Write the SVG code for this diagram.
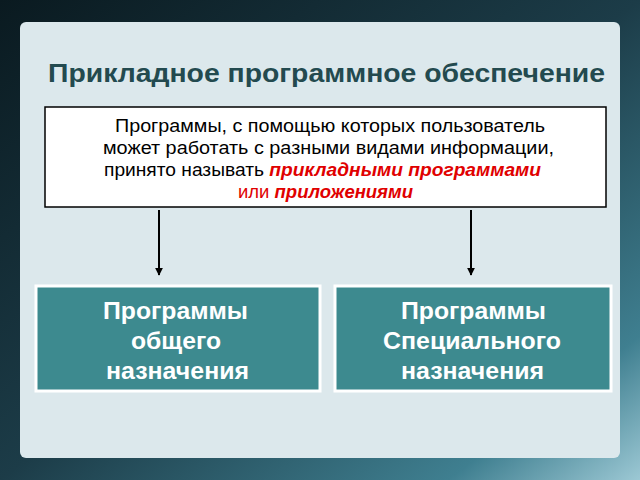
<svg xmlns="http://www.w3.org/2000/svg" width="640" height="480" viewBox="0 0 640 480">
<defs>
<linearGradient id="bg" x1="0" y1="0" x2="1" y2="1">
<stop offset="0" stop-color="#0a1a20"/><stop offset="0.5" stop-color="#1c3c48"/><stop offset="0.85" stop-color="#3f7f90"/><stop offset="1" stop-color="#9cc8d4"/>
</linearGradient>
<marker id="ah" viewBox="0 0 10 10" refX="9" refY="5" markerWidth="4" markerHeight="4" orient="auto"><path d="M0,0L10,5L0,10z" fill="#000"/></marker>
<style>
.t{font-family:"Liberation Sans",Arial,sans-serif}
.box{fill:#3d8a8f;stroke:#fff;stroke-width:3}
.bl{font-family:"Liberation Sans",Arial,sans-serif;font-weight:bold;font-size:23px;fill:#fff}
.r{fill:#e00000;font-weight:bold;font-style:italic}
</style>
</defs>
<rect width="640" height="480" fill="url(#bg)"/>
<rect x="20" y="22" width="600" height="436" rx="6" fill="#dce8ec"/>
<text class="t" x="48" y="82" font-size="26" font-weight="bold" fill="#234a4f" textLength="557" lengthAdjust="spacingAndGlyphs">Прикладное программное обеспечение</text>
<g id="def">
<rect x="45" y="107" width="561" height="100" fill="#fff" stroke="#000" stroke-width="1.5"/>
<text class="t" font-size="17.5" fill="#000">
<tspan x="115" y="132" textLength="430" lengthAdjust="spacingAndGlyphs">Программы, с помощью которых пользователь</tspan>
<tspan x="103" y="154" textLength="451" lengthAdjust="spacingAndGlyphs">может работать с разными видами информации,</tspan>
</text>
<text class="t" font-size="17.5" x="104" y="176" textLength="437" lengthAdjust="spacingAndGlyphs">принято называть <tspan class="r">прикладными программами</tspan></text>
<text class="t" font-size="17.5" x="238" y="198" fill="#e00000" textLength="175" lengthAdjust="spacingAndGlyphs">или <tspan class="r">приложениями</tspan></text>
</g>
<g id="connectors" stroke="#000" stroke-width="2">
<line x1="159" y1="210" x2="159" y2="275" marker-end="url(#ah)"/>
<line x1="471" y1="210" x2="471" y2="275" marker-end="url(#ah)"/>
</g>
<g id="general">
<rect class="box" x="36" y="286" width="284" height="105"/>
<text class="bl" x="103" y="319" textLength="145" lengthAdjust="spacingAndGlyphs">Программы</text>
<text class="bl" x="131" y="349" textLength="90" lengthAdjust="spacingAndGlyphs">общего</text>
<text class="bl" x="106" y="379" textLength="143" lengthAdjust="spacingAndGlyphs">назначения</text>
</g>
<g id="special">
<rect class="box" x="335" y="286" width="276" height="105"/>
<text class="bl" x="401" y="319" textLength="145" lengthAdjust="spacingAndGlyphs">Программы</text>
<text class="bl" x="383" y="349" textLength="178" lengthAdjust="spacingAndGlyphs">Специального</text>
<text class="bl" x="401" y="379" textLength="143" lengthAdjust="spacingAndGlyphs">назначения</text>
</g>
</svg>
